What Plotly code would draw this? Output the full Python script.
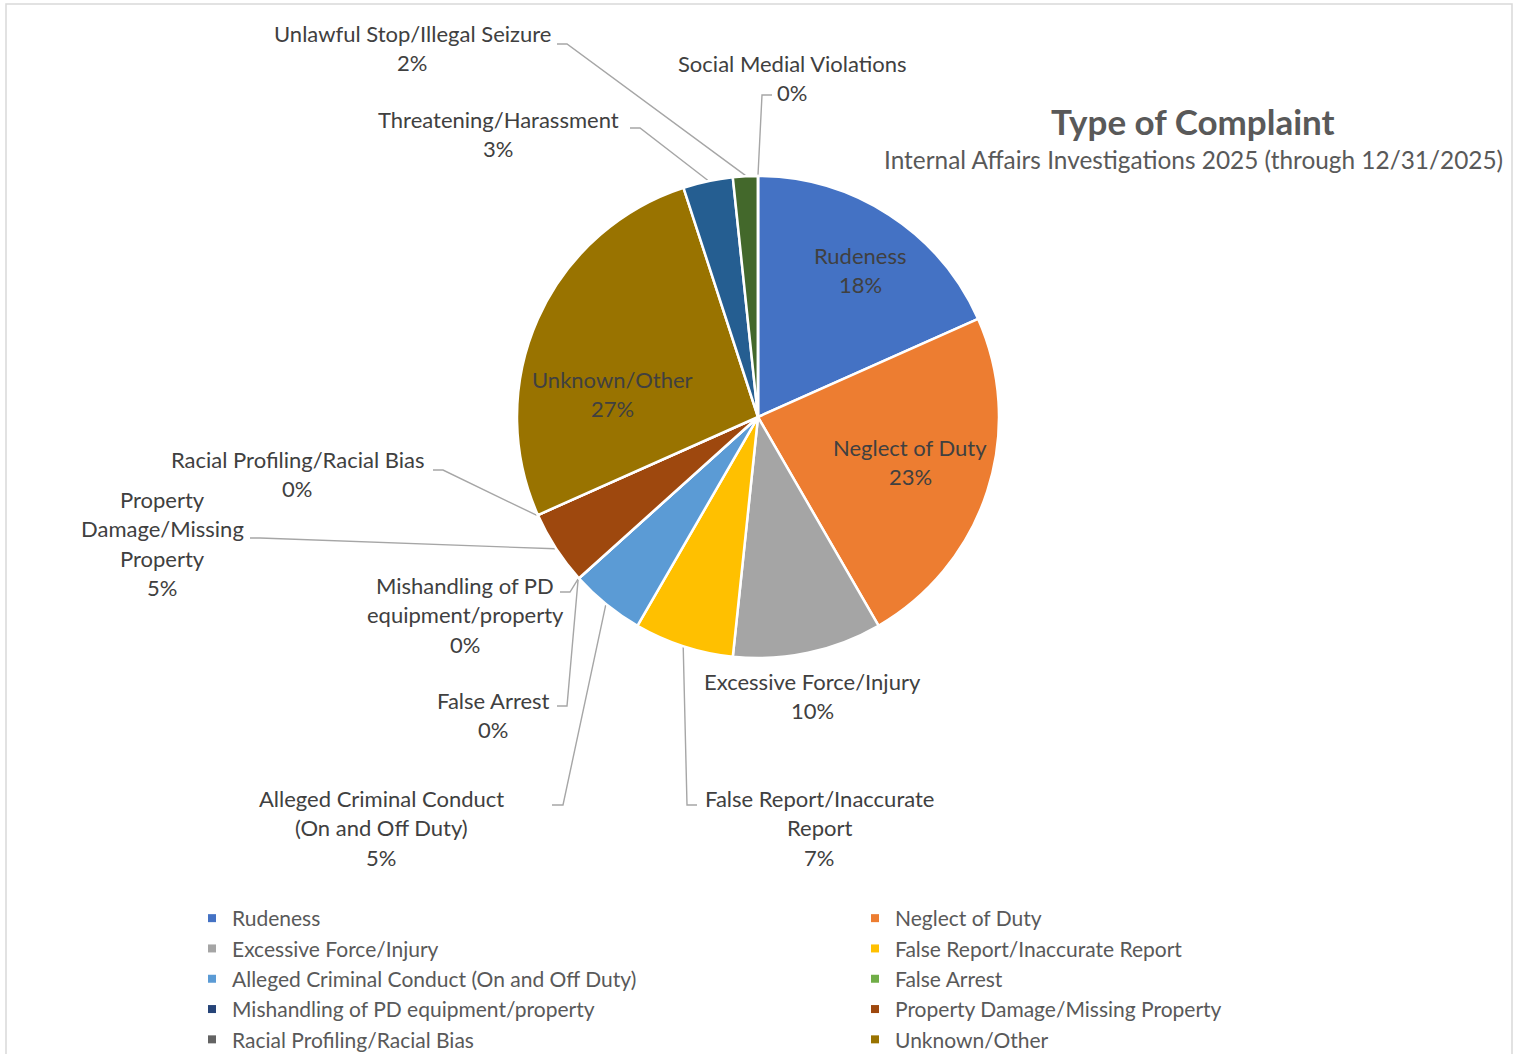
import math
import plotly.graph_objects as go

# ---------------- data ----------------
categories = [
    "Rudeness",
    "Neglect of Duty",
    "Excessive Force/Injury",
    "False Report/Inaccurate Report",
    "Alleged Criminal Conduct (On and Off Duty)",
    "False Arrest",
    "Mishandling of PD equipment/property",
    "Property Damage/Missing Property",
    "Racial Profiling/Racial Bias",
    "Unknown/Other",
    "Threatening/Harassment",
    "Unlawful Stop/Illegal Seizure",
    "Social Medial Violations",
]
counts = [11, 14, 6, 4, 3, 0, 0, 3, 0, 16, 2, 1, 0]

# wrapped category text used in the data labels
label_lines = [
    ["Rudeness"],
    ["Neglect of Duty"],
    ["Excessive Force/Injury"],
    ["False Report/Inaccurate", "Report"],
    ["Alleged Criminal Conduct", "(On and Off Duty)"],
    ["False Arrest"],
    ["Mishandling of PD", "equipment/property"],
    ["Property", "Damage/Missing", "Property"],
    ["Racial Profiling/Racial Bias"],
    ["Unknown/Other"],
    ["Threatening/Harassment"],
    ["Unlawful Stop/Illegal Seizure"],
    ["Social Medial Violations"],
]

title_text = "Type of Complaint"
subtitle_text = "Internal Affairs Investigations 2025 (through 12/31/2025)"
legend_shown = 10  # entries visible in the legend

# ---------------- styles / layout ----------------
colors = ["#4472C4", "#ED7D31", "#A5A5A5", "#FFC000", "#5B9BD5", "#70AD47",
          "#264478", "#9E480E", "#636363", "#997300", "#255E91", "#43682B", "#698ED0"]
W, H = 1516, 1054
CX, CY, R = 758, 417, 241
FONT = "Lato"
LBL_SIZE = 22
LINE_GAP = 29.6
TXT_COLOR = "#404040"
GRAY = "#595959"

# label block placement (center x, first-line center y), in page pixels
label_pos = [
    (860, 255), (910, 447), (812, 681), (819, 798), (381, 798), (493, 700),
    (465, 585), (162, 499), (297, 459), (612, 379), (498, 119), (412, 33), (792, 63),
]
# leader lines: index -> (x at label, y, x of elbow)
leaders = {
    3: (697, 805, 687),
    4: (552, 805, 563),
    5: (557, 706, 567),
    6: (560, 592, 570),
    7: (250, 538, 260),
    8: (433, 470, 443),
    10: (630, 128, 640),
    11: (557, 44, 567),
    12: (772, 95, 762),
}

total = sum(counts)
pcts = [round(100 * c / total) for c in counts]

# mid angle (clockwise from 12 o'clock) of each slice
mid_angles = []
cum = 0
for c in counts:
    mid_angles.append((cum + c / 2) / total * 2 * math.pi)
    cum += c

fig = go.Figure()

# leader lines
for i, (xl, yl, xe) in leaders.items():
    a = mid_angles[i]
    ex = CX + (R + 1) * math.sin(a)
    ey = CY - (R + 1) * math.cos(a)
    fig.add_trace(go.Scatter(
        x=[xl, xe, ex], y=[yl, yl, ey], mode="lines",
        line=dict(color="#A6A6A6", width=1.4),
        hoverinfo="skip", showlegend=False,
    ))

# legend proxies
for i in range(legend_shown):
    fig.add_trace(go.Scatter(
        x=[None], y=[None], mode="markers", name=categories[i],
        marker=dict(symbol="square", size=8, color=colors[i]),
        showlegend=True,
    ))

fig.add_trace(go.Pie(
    labels=categories, values=counts, sort=False, direction="clockwise",
    rotation=0, textinfo="none", showlegend=False,
    marker=dict(colors=colors, line=dict(color="white", width=2.5)),
    domain=dict(x=[(CX - R) / W, (CX + R) / W], y=[1 - (CY + R) / H, 1 - (CY - R) / H]),
    hovertemplate="%{label}: %{percent}<extra></extra>",
))

annotations = []
for i, lines in enumerate(label_lines):
    x0, y0 = label_pos[i]
    all_lines = lines + [f"{pcts[i]}%"]
    for k, t in enumerate(all_lines):
        annotations.append(dict(
            x=x0, y=y0 + k * LINE_GAP, xref="x", yref="y", text=t, showarrow=False,
            xanchor="center", yanchor="middle",
            font=dict(family=FONT, size=LBL_SIZE, color=TXT_COLOR),
        ))

annotations.append(dict(x=1193, y=121, xref="x", yref="y", text=f"<b>{title_text}</b>",
                        showarrow=False, xanchor="center", yanchor="middle",
                        font=dict(family=FONT, size=35, color=GRAY)))
annotations.append(dict(x=1193, y=159, xref="x", yref="y", text=subtitle_text,
                        showarrow=False, xanchor="center", yanchor="middle",
                        font=dict(family=FONT, size=24.4, color=GRAY)))

fig.update_layout(
    width=W, height=H,
    margin=dict(l=0, r=0, t=0, b=0, autoexpand=False),
    paper_bgcolor="white", plot_bgcolor="white",
    xaxis=dict(range=[0, W], visible=False, fixedrange=True, domain=[0, 1]),
    yaxis=dict(range=[H, 0], visible=False, fixedrange=True, domain=[0, 1]),
    annotations=annotations,
    showlegend=True,
    legend=dict(
        orientation="h", x=192 / W, y=1 - 898 / H, xanchor="left", yanchor="top",
        entrywidth=618, entrywidthmode="pixels",
        font=dict(family=FONT, size=21, color=GRAY),
        bgcolor="rgba(0,0,0,0)", itemclick=False, itemdoubleclick=False,
        traceorder="normal",
    ),
    shapes=[dict(type="rect", xref="paper", yref="paper", x0=6 / W, x1=1512 / W,
                 y0=-0.05, y1=1 - 4 / H, line=dict(color="#D9D9D9", width=1.5))],
)

fig.write_html("out.html", config={"displayModeBar": False},
               post_script="document.body.style.margin='0';document.body.style.overflow='hidden';")
